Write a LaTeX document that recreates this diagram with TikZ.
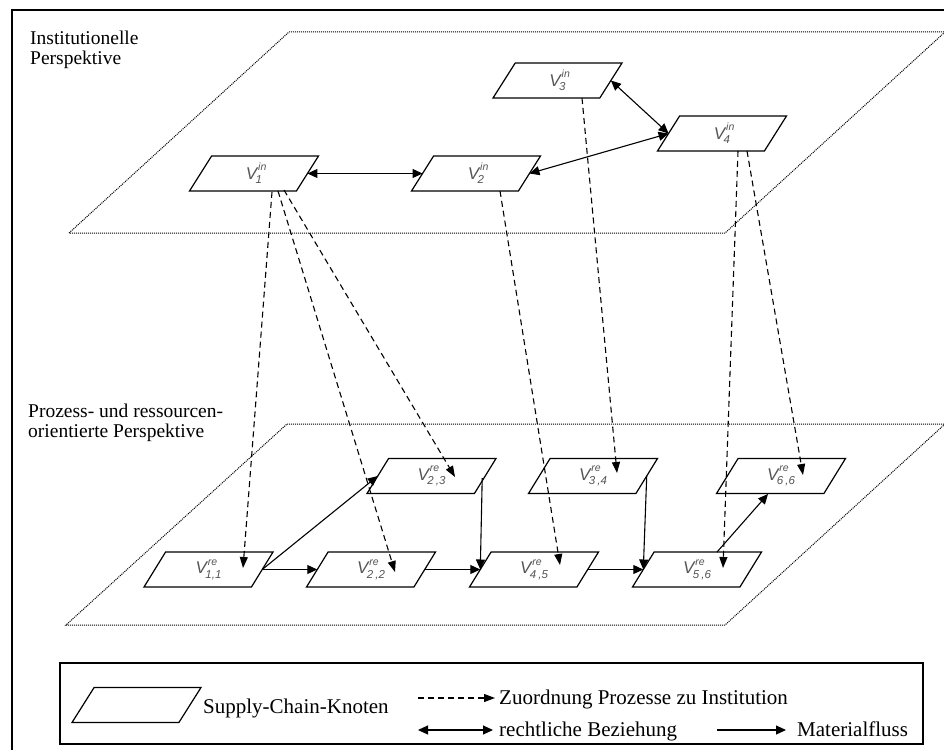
\documentclass[tikz,border=0pt]{standalone}
\usepackage{fontspec}
\setmainfont{Liberation Serif}
\setsansfont{Liberation Sans}
\usetikzlibrary{shapes.geometric,arrows.meta,calc}
\definecolor{labgray}{HTML}{555555}
% label of a supply chain node: V with superscript and subscript
\newcommand\snlab[2]{{\color{labgray}\sffamily\itshape\fontsize{17}{17}\selectfont V\kern-1.5pt\raisebox{-4.5pt}{\fontsize{11.5}{11.5}\selectfont\rlap{\hspace{2.5pt}\raisebox{13pt}{\fontsize{10.5}{10.5}\selectfont #1}}#2}}}
\begin{document}
\begin{tikzpicture}[x=1pt,y=-1pt,
  scnode/.style={trapezium, trapezium left angle=43, trapezium right angle=137,
    trapezium stretches body, draw, line width=1.2pt,
    minimum width=129pt, minimum height=35pt, inner sep=0pt, outer sep=0pt},
  plane/.style={line width=1pt, dash pattern=on 1pt off 1pt},
  assign/.style={line width=1.1pt, dash pattern=on 6pt off 4pt,
    -{Triangle[length=11pt,width=8pt]}},
  legal/.style={line width=1.1pt,
    {Triangle[length=10pt,width=9pt]}-{Triangle[length=10pt,width=9pt]}},
  flow/.style={line width=1.1pt, -{Triangle[length=10pt,width=9pt]}},
  txt/.style={font=\fontsize{19.5}{20}\selectfont, anchor=base west, inner sep=0pt},
  legtxt/.style={font=\fontsize{21}{22}\selectfont, anchor=base west, inner sep=0pt},
]
\useasboundingbox (0,0) rectangle (944,749);

% outer frame
\draw[line width=1.6pt] (12,770) -- (12,10) -- (960,10);

% the two perspective planes
\draw[plane] (289,32) -- (945,32) -- (725,233) -- (69,233) -- cycle;
\draw[plane] (287,424) -- (945,424) -- (725,625) -- (66,625) -- cycle;

\node[txt] (t1a) at (30,45) {Institutionelle};
\node[txt] (t1b) at (30,65) {Perspektive};
\node[txt] (t2a) at (28,417) {Prozess- und ressourcen-};
\node[txt] (t2b) at (28,437) {orientierte Perspektive};

% institutional nodes
\node[scnode] (v1in) at (254,173.5) {\snlab{in}{1}};
\node[scnode] (v2in) at (476,173.5) {\snlab{in}{2}};
\node[scnode] (v3in) at (557.5,80.5) {\snlab{in}{3}};
\node[scnode] (v4in) at (722,133.5) {\snlab{in}{4}};

% process and resource nodes
\node[scnode] (v11) at (208.5,569.5) {\snlab{re}{1,1}};
\node[scnode] (v22) at (371,569.5) {\snlab{re}{2\hspace{2pt},2}};
\node[scnode] (v45) at (534,569.5) {\snlab{re}{4\hspace{2pt},5}};
\node[scnode] (v56) at (697,569.5) {\snlab{re}{5\hspace{2pt},6}};
\node[scnode] (v23) at (431.5,476) {\snlab{re}{2\hspace{2pt},3}};
\node[scnode] (v34) at (593,476) {\snlab{re}{3\hspace{2pt},4}};
\node[scnode] (v66) at (781,476) {\snlab{re}{6\hspace{2pt},6}};

% legal relations
\draw[legal] (v1in.east) -- (v2in.west);
\draw[legal] (v3in.east) -- (v4in.west);
\draw[legal] (v2in.east) -- (v4in.west);

% assignment of processes to institutions
\draw[assign] ([shift={(18,18.5)}]v1in.center) -- ([shift={(34.5,-1.5)}]v11.center);
\draw[assign] ([shift={(24,17.5)}]v1in.center) -- ([shift={(24,2.5)}]v22.center);
\draw[assign] ([shift={(30,16.5)}]v1in.center) -- ([shift={(23.5,1)}]v23.center);
\draw[assign] ([shift={(24,17.5)}]v2in.center) -- ([shift={(26,-4.5)}]v45.center);
\draw[assign] ([shift={(24.5,17.5)}]v3in.center) -- ([shift={(24,-3)}]v34.center);
\draw[assign] ([shift={(16,17.5)}]v4in.center) -- ([shift={(26,-1.5)}]v56.center);
\draw[assign] ([shift={(25,17.5)}]v4in.center) -- ([shift={(22,-1)}]v66.center);

% material flow
\draw[flow] (v11.east) -- (v22.west);
\draw[flow] (v11.east) -- (v23.west);
\draw[flow] (v22.east) -- (v45.west);
\draw[flow] ([shift={(-3,2)}]v23.east) -- (v45.west);
\draw[flow] (v45.east) -- (v56.west);
\draw[flow] (v34.east) -- (v56.west);
\draw[flow] ([shift={(20,-17.5)}]v56.center) -- ([shift={(-13,18)}]v66.center);

% legend
\draw[line width=1.2pt] (60,663) rectangle (923,744);
\node[scnode] (leg) at (136.5,705) {\phantom{\snlab{in}{1}}};
\node[legtxt] (legsc) at (203,713) {Supply-Chain-Knoten};
\coordinate (la1) at (418,698);
\coordinate (la2) at (495,698);
\draw[assign] (la1) -- (la2);
\node[legtxt] (legas) at (499,704) {Zuordnung Prozesse zu Institution};
\coordinate (lb1) at (418,730);
\coordinate (lb2) at (493,730);
\draw[legal] (lb1) -- (lb2);
\node[legtxt] (legle) at (499,736) {rechtliche Beziehung};
\coordinate (lc1) at (717,730);
\coordinate (lc2) at (786,730);
\draw[flow] (lc1) -- (lc2);
\node[legtxt] (legfl) at (797,736) {Materialfluss};
\end{tikzpicture}
\end{document}
